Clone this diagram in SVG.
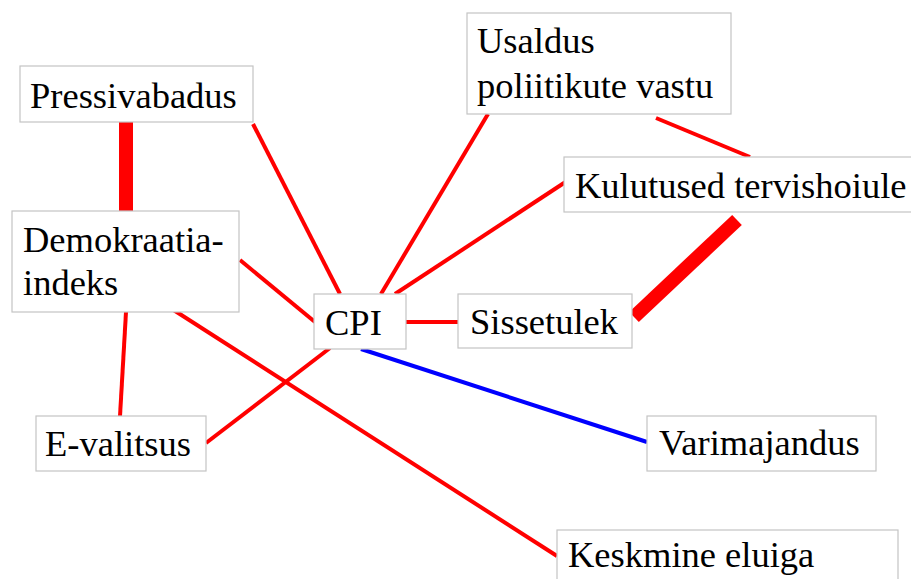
<svg xmlns="http://www.w3.org/2000/svg" width="911" height="579" viewBox="0 0 911 579">
<style>
.box{fill:#fff;stroke:#c4c4c4;stroke-width:1.2}
.t{font-family:"Liberation Serif","Times New Roman",serif;font-size:36.5px;fill:#000}
.r{stroke:#ff0000;stroke-width:4;fill:none}
.rt{stroke:#ff0000;stroke-width:14;fill:none}
.b{stroke:#0000ff;stroke-width:4;fill:none}
</style>
<rect width="911" height="579" fill="#fff"/>
<g id="connectors">
<line class="rt" x1="126" y1="121" x2="126" y2="211"/>
<line class="r" x1="253" y1="124" x2="340" y2="294"/>
<line class="r" x1="240" y1="260" x2="315" y2="322"/>
<line class="r" x1="126" y1="312" x2="120" y2="416"/>
<line class="r" x1="206" y1="443" x2="330" y2="348"/>
<line class="r" x1="172" y1="309" x2="557" y2="556"/>
<line class="r" x1="406" y1="322" x2="459" y2="322"/>
<line class="b" x1="361" y1="349" x2="647" y2="442"/>
<line class="r" x1="488" y1="114" x2="381" y2="294"/>
<line class="r" x1="656" y1="118" x2="750" y2="157"/>
<line class="r" x1="567" y1="181" x2="395" y2="294"/>
<line class="rt" x1="737" y1="220" x2="634" y2="317"/>
</g>
<g id="pressivabadus"><rect class="box" x="20" y="66" width="233" height="56"/><text class="t" x="30" y="108">Pressivabadus</text></g>
<g id="demokraatia"><rect class="box" x="12" y="211" width="227" height="101"/><text class="t" x="23" y="252">Demokraatia-</text><text class="t" x="23" y="295">indeks</text></g>
<g id="evalitsus"><rect class="box" x="36" y="416" width="170" height="55"/><text class="t" x="45" y="456">E-valitsus</text></g>
<g id="cpi"><rect class="box" x="314" y="294" width="92" height="55"/><text class="t" x="325" y="335">CPI</text></g>
<g id="usaldus"><rect class="box" x="467" y="13" width="264" height="101"/><text class="t" x="477" y="53">Usaldus</text><text class="t" x="477" y="98">poliitikute vastu</text></g>
<g id="kulutused"><rect class="box" x="564" y="157" width="360" height="55"/><text class="t" x="575" y="198">Kulutused tervishoiule</text></g>
<g id="sissetulek"><rect class="box" x="458" y="294" width="174" height="54"/><text class="t" x="470" y="334">Sissetulek</text></g>
<g id="varimajandus"><rect class="box" x="647" y="416" width="229" height="55"/><text class="t" x="659" y="455">Varimajandus</text></g>
<g id="keskmine"><rect class="box" x="557" y="530" width="341" height="60"/><text class="t" x="568" y="567">Keskmine eluiga</text></g>
</svg>
